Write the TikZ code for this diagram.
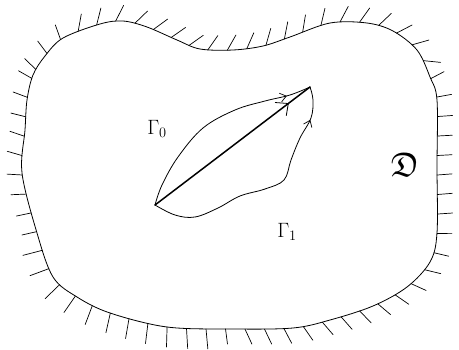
\documentclass[tikz,border=0pt]{standalone}
\usepackage{amssymb}
\usetikzlibrary{decorations.markings,arrows.meta,calc}
\tikzset{
  curve/.style={line width=0.8pt, line join=round, line cap=round},
  hatched/.style={postaction={decorate, decoration={markings,
      mark=between positions 0.005 and 1 step 19.5pt with {%
        \pgfmathsetmacro\hfr{\pgfkeysvalueof{/pgf/decoration/mark info/distance from start}/\pgfdecoratedpathlength}%
        \pgfmathsetmacro\htilt{(\hfr<0.05)*4 + (\hfr>=0.05)*(\hfr<0.36)*9 + (\hfr>=0.36)*(\hfr<0.51)*(-1) + (\hfr>=0.51)*(\hfr<0.68)*(-7) + (\hfr>=0.68)*(\hfr<0.80)*(-2) + (\hfr>=0.80)*(\hfr<0.89)*1 + (\hfr>=0.89)*3}%
        \pgfmathsetmacro\hlen{15 + (\hfr>0.70)*(\hfr<0.86)*5}%
        \draw[line width=0.7pt, line cap=round] (0pt,0pt) -- (\htilt pt,\hlen pt);}}}},
  midarrow/.style={postaction={decorate, decoration={markings,
      mark=at position #1 with {\arrow[line width=0.7pt]{Straight Barb[length=6pt,width=9pt]}}}}},
  wing/.style={line width=0.8pt, line cap=round},
  lbl/.style={inner sep=0pt}
}
\begin{document}
\begin{tikzpicture}[x=1pt,y=-1pt]
\useasboundingbox (0,0) rectangle (459,349);
% outer boundary with hatching
\draw[curve, hatched] plot[smooth cycle, tension=0.55] coordinates {
  (27,100) (33,75) (45,56) (63,38) (100,24) (123,21) (147,27) (177,40) (200,49)
  (233,50) (263,46) (290,37) (330,23) (367,23) (393,31) (417,50) (430,77)
  (437,100) (437,167) (437,233) (430,262) (407,287) (373,306) (330,320)
  (293,328) (233,329) (167,327) (110,313) (77,297) (53,277) (37,233) (22,173) (25,130)};
% lens endpoints
\coordinate (L) at (155,205);
\coordinate (R) at (310,87);
% upper curve Gamma_0
\draw[curve, midarrow=0.88] plot[smooth, tension=0.6] coordinates {
  (L) (162,185) (178,157) (203,128) (235,110) (265,101) (290,95) (R)};
% lower curve Gamma_1
\draw[curve, midarrow=0.86] plot[smooth, tension=0.6] coordinates {
  (L) (175,215) (195,217) (218,208) (240,196) (265,189) (284,180) (291,160) (300,138) (311,118) (313,100) (R)};
% chord
\draw[line width=1.5pt, line cap=round] (L) -- (R);
\coordinate (P) at ($(L)!0.86!(R)$);
\draw[wing] (P) -- ++(-13,-1);
\draw[wing] (P) -- ++(-2,12);
% labels
\node[lbl] (g0) at (157,129) {\huge $\Gamma_0$};
\node[lbl] (g1) at (287,232) {\huge $\Gamma_1$};
\node[lbl] (d) at (405,165) {\fontsize{34}{36}\selectfont $\mathfrak{D}$};
\end{tikzpicture}
\end{document}
